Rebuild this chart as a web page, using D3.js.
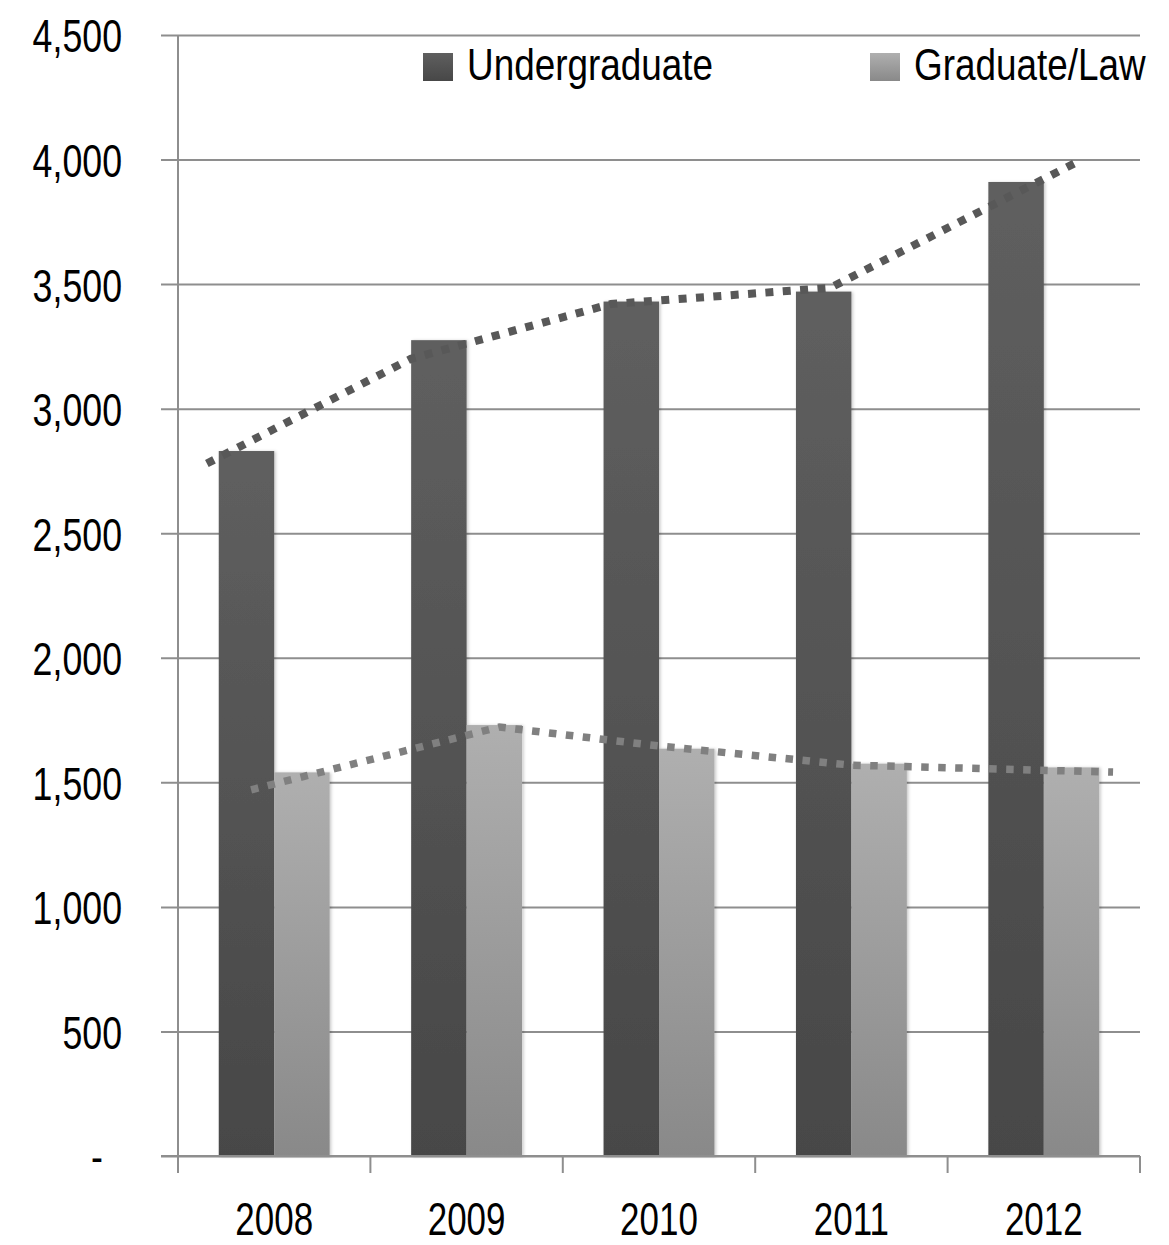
<!DOCTYPE html>
<html>
<head>
<meta charset="utf-8">
<script src="https://cdn.jsdelivr.net/npm/d3@7"></script>
<style>
  body { margin: 0; background: #fff; }
  svg text { font-family: "Liberation Sans", Arial, sans-serif; fill: #000; }
</style>
</head>
<body>
<div id="chart"></div>
<script>
// data
const years = ["2008", "2009", "2010", "2011", "2012"];
const series = ["Undergraduate", "Graduate/Law"];
const undergrad = [2830, 3275, 3430, 3470, 3910];
const graduate = [1540, 1730, 1635, 1575, 1560];
// dotted trend lines: position in years (fractional) and value
const underTrendAt = [2007.65, 2008.71, 2009.75, 2010.89, 2012.19];
const underTrend = [2780, 3200, 3420, 3485, 3997];
const gradTrendAt = [2007.88, 2009.17, 2010.01, 2011.0, 2012.36];
const gradTrend = [1470, 1722, 1645, 1569, 1541];
const yTicks = [0, 500, 1000, 1500, 2000, 2500, 3000, 3500, 4000, 4500];

(function() {
    const width = 1169,
          height = 1245;
    const margin = {top: 35, right: 29, bottom: 89, left: 178};
    const squeeze = 0.76; // the original font is a condensed one

    const svg = d3.select("#chart")
        .append("svg")
        .attr("width", width)
        .attr("height", height);

    const defs = svg.append("defs");

    const colors = {
        "Undergraduate": ["#5f5f5f", "#474747"],
        "Graduate/Law": ["#afafaf", "#898989"]
    };
    series.forEach((s, i) => {
        const g = defs.append("linearGradient")
            .attr("id", "grad" + i)
            .attr("x1", 0).attr("y1", 0).attr("x2", 0).attr("y2", 1);
        g.append("stop").attr("offset", "0%").attr("stop-color", colors[s][0]);
        g.append("stop").attr("offset", "100%").attr("stop-color", colors[s][1]);
    });

    const shadow = defs.append("filter")
        .attr("id", "shadow")
        .attr("x", "-20%").attr("y", "-5%")
        .attr("width", "140%").attr("height", "110%");
    shadow.append("feDropShadow")
        .attr("dx", 1.5).attr("dy", 0.5)
        .attr("stdDeviation", 1.5)
        .attr("flood-color", "#000")
        .attr("flood-opacity", 0.22);

    const x0 = d3.scaleBand()
        .domain(years)
        .range([margin.left, width - margin.right]);

    const x1 = d3.scaleBand()
        .domain(series)
        .range([0, x0.bandwidth()])
        .paddingOuter(0.735);

    // linear year scale that lines up with the band centres
    const xYear = d3.scaleLinear()
        .domain([2008, 2012])
        .range([x0("2008") + x0.bandwidth() / 2, x0("2012") + x0.bandwidth() / 2]);

    const y = d3.scaleLinear()
        .domain([0, 4500])
        .range([height - margin.bottom, margin.top]);

    // gridlines + y axis
    const yAxis = d3.axisLeft(y)
        .tickValues(yTicks)
        .tickSize(-(width - margin.right - margin.left))
        .tickPadding(0)
        .tickFormat(d => d === 0 ? "-" : d3.format(",")(d));

    const yg = svg.append("g")
        .attr("transform", `translate(${margin.left},0)`)
        .call(yAxis);
    yg.select(".domain").remove();
    yg.selectAll(".tick line")
        .attr("x1", -17)
        .attr("stroke", "#8e8e8e")
        .attr("stroke-width", 2);
    yg.selectAll(".tick text")
        .attr("x", 0)
        .attr("dy", "0.36em")
        .attr("text-anchor", "end")
        .attr("transform", d => `translate(${d === 0 ? -75 : -56},0) scale(${squeeze},1)`)
        .style("font-size", "47px");

    // bars
    const data = years.map((yr, i) => ({year: yr, values: [undergrad[i], graduate[i]]}));
    const groups = svg.selectAll(".year")
        .data(data)
        .enter().append("g")
        .attr("class", "year")
        .attr("transform", d => `translate(${x0(d.year)},0)`);

    groups.selectAll("rect")
        .data(d => d.values.map((v, i) => ({key: series[i], i: i, value: v})))
        .enter().append("rect")
        .attr("x", d => x1(d.key))
        .attr("y", d => y(d.value))
        .attr("width", x1.bandwidth())
        .attr("height", d => y(0) - y(d.value))
        .attr("fill", d => `url(#grad${d.i})`)
        .attr("filter", "url(#shadow)");

    // x axis
    const xg = svg.append("g")
        .attr("transform", `translate(0,${y(0)})`);
    xg.append("line")
        .attr("x1", margin.left - 17)
        .attr("x2", width - margin.right)
        .attr("stroke", "#8e8e8e")
        .attr("stroke-width", 2);
    const bounds = years.map(d => x0(d)).concat([x0(years[years.length - 1]) + x0.bandwidth()]);
    xg.selectAll(".xtick")
        .data(bounds)
        .enter().append("line")
        .attr("class", "xtick")
        .attr("x1", d => d).attr("x2", d => d)
        .attr("y1", 0).attr("y2", 17)
        .attr("stroke", "#8e8e8e")
        .attr("stroke-width", 2);
    xg.selectAll(".xlabel")
        .data(years)
        .enter().append("text")
        .attr("class", "xlabel")
        .attr("text-anchor", "middle")
        .attr("transform", d => `translate(${x0(d) + x0.bandwidth() / 2},79) scale(${squeeze},1)`)
        .style("font-size", "46px")
        .text(d => d);

    // left axis line
    svg.append("line")
        .attr("x1", margin.left).attr("x2", margin.left)
        .attr("y1", margin.top).attr("y2", y(0) + 17)
        .attr("stroke", "#8e8e8e")
        .attr("stroke-width", 2);

    // dotted trend lines
    const line = d3.line()
        .x(d => xYear(d[0]))
        .y(d => y(d[1]));

    svg.append("path")
        .datum(underTrendAt.map((t, i) => [t, underTrend[i]]))
        .attr("d", line)
        .attr("fill", "none")
        .attr("stroke", "#585858")
        .attr("stroke-width", 8)
        .attr("stroke-dasharray", "8,9.4");

    svg.append("path")
        .datum(gradTrendAt.map((t, i) => [t, gradTrend[i]]))
        .attr("d", line)
        .attr("fill", "none")
        .attr("stroke", "#808080")
        .attr("stroke-width", 7.5)
        .attr("stroke-dasharray", "7.5,9.5");

    // legend
    const legendX = [423, 870];
    const legend = svg.selectAll(".legend")
        .data(series)
        .enter().append("g")
        .attr("class", "legend")
        .attr("transform", (d, i) => `translate(${legendX[i]},53)`);
    legend.append("rect")
        .attr("width", 30).attr("height", 28)
        .attr("fill", (d, i) => `url(#grad${i})`);
    legend.append("text")
        .attr("transform", "translate(44,27) scale(0.82,1)")
        .style("font-size", "45px")
        .text(d => d);
})();
</script>
</body>
</html>
